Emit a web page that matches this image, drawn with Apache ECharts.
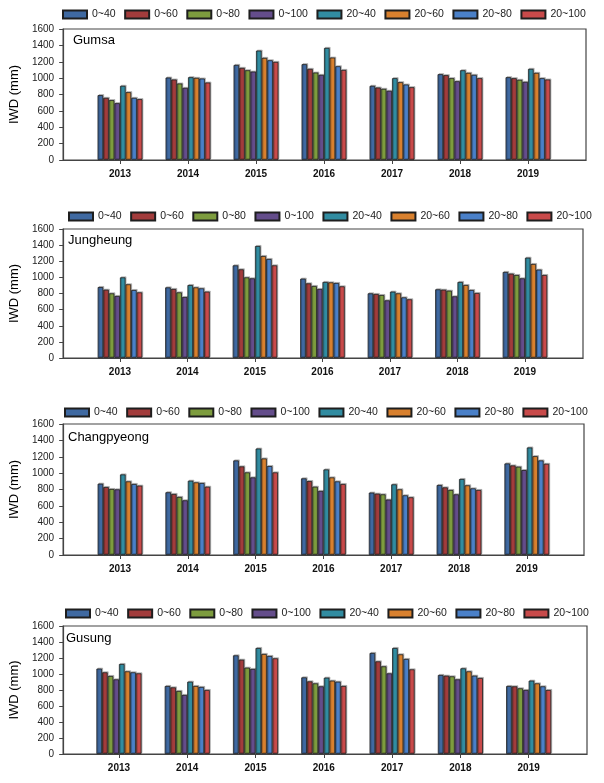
<!DOCTYPE html>
<html>
<head>
<meta charset="utf-8">
<script src="https://cdn.jsdelivr.net/npm/echarts@6/dist/echarts.min.js"></script>
<style>
html,body{margin:0;padding:0;background:#fff;}
#myChart{width:604px;height:783px;}
</style>
</head>
<body>
<div id="myChart"></div>
<script type='text/javascript'>
//数据
var years  = ['2013','2014','2015','2016','2017','2018','2019'];
var depths = ['0~40','0~60','0~80','0~100','20~40','20~60','20~80','20~100'];
var sites  = ['Gumsa','Jungheung','Changpyeong','Gusung'];
var yTicks = [0,200,400,600,800,1000,1200,1400,1600];

// rows = depths, columns = years
var gumsa = [
	[792,1007,1161,1170,906,1048,1011],
	[759,983,1125,1113,885,1036,999],
	[731,934,1096,1068,869,999,979],
	[694,881,1080,1040,845,962,954],
	[906,1011,1336,1369,999,1096,1113],
	[828,1003,1247,1251,950,1064,1064],
	[759,995,1218,1145,922,1040,999],
	[743,946,1198,1100,889,999,983]
];
var jungheung = [
	[880,876,1149,984,802,852,1067],
	[847,856,1100,926,794,847,1046],
	[802,814,1000,893,781,835,1029],
	[769,756,988,856,715,765,988],
	[1000,905,1389,943,823,943,1244],
	[914,876,1265,938,802,905,1166],
	[843,864,1228,930,752,843,1096],
	[814,823,1149,889,728,806,1029]
];
var changpyeong = [
	[871,766,1155,936,762,855,1118],
	[830,745,1082,903,749,826,1094],
	[806,709,1009,834,741,794,1078],
	[802,668,948,782,677,741,1037],
	[984,907,1300,1045,863,928,1313],
	[899,887,1179,948,802,851,1207],
	[867,879,1086,899,729,814,1155],
	[847,834,1009,867,705,794,1114]
];
var gusung = [
	[1067,850,1233,958,1263,988,850],
	[1021,833,1179,908,1158,979,846],
	[975,788,1079,883,1096,971,821],
	[933,738,1063,846,1008,933,800],
	[1125,904,1325,954,1325,1071,917],
	[1033,850,1250,917,1246,1033,883],
	[1021,838,1225,904,1188,979,846],
	[1008,800,1196,850,1058,950,800]
];
var siteData = [gumsa, jungheung, changpyeong, gusung];

var colors = ['#3f69a1','#a23c3c','#7d9c3e','#644d8b','#318ca1','#d8802e','#4a80c8','#c84a4a'];

// panel layout: frame box, inner band for years, legend and label spots
var panels = [
	{left:61, top:29,  width:525, height:131, inLeft:86,   inWidth:476,   legLeft:62, legTop:9,   tLeft:73, tTop:34},
	{left:62, top:229, width:521, height:129, inLeft:86.2, inWidth:472.5, legLeft:68, legTop:211, tLeft:68, tTop:234},
	{left:62, top:424, width:522, height:131, inLeft:86.1, inWidth:474.6, legLeft:64, legTop:407, tLeft:68, tTop:431},
	{left:60, top:626, width:527, height:128, inLeft:84.8, inWidth:478,   legLeft:65, legTop:608, tLeft:66, tTop:632}
];

var axisColor = '#444';
var option = {
	animation:false,
	textStyle:{fontFamily:'Arial, "Liberation Sans", sans-serif'},
	title:[], legend:[], grid:[], xAxis:[], yAxis:[], series:[]
};

for(var p=0;p<panels.length;p++){
	var c = panels[p];
	option.title.push({
		text:sites[p], left:c.tLeft, top:c.tTop, padding:0,
		textStyle:{fontSize:13, fontWeight:'normal', color:'#000'}
	});
	option.legend.push({
		data:depths, left:c.legLeft, top:c.legTop, padding:0, width:560,
		icon:'rect', itemWidth:24, itemHeight:8, itemGap:8.5,
		textStyle:{fontSize:10.5, color:'#222'}
	});
	//外框
	option.grid.push({left:c.left, top:c.top, width:c.width, height:c.height,
		show:true, borderColor:axisColor, borderWidth:1.2, backgroundColor:'transparent'});
	//年份区
	option.grid.push({left:c.inLeft, top:c.top, width:c.inWidth, height:c.height});

	option.xAxis.push({
		gridIndex:2*p, type:'value', min:0, max:1,
		axisLine:{show:true, lineStyle:{color:axisColor, width:1.2}},
		axisTick:{show:false}, axisLabel:{show:false}, splitLine:{show:false}
	});
	option.xAxis.push({
		gridIndex:2*p+1, type:'category', data:years,
		axisLine:{show:false},
		axisTick:{show:true, alignWithLabel:true, length:4, lineStyle:{color:axisColor}},
		axisLabel:{fontSize:10, fontWeight:'bold', color:'#111', margin:9},
		splitLine:{show:false}
	});
	option.yAxis.push({
		gridIndex:2*p, type:'value', min:yTicks[0], max:yTicks[yTicks.length-1], interval:200,
		name:'IWD (mm)', nameLocation:'middle', nameGap:42,
		nameTextStyle:{fontSize:13, color:'#000'},
		axisLine:{show:true, lineStyle:{color:axisColor, width:1.2}},
		axisTick:{show:true, length:4, lineStyle:{color:axisColor}},
		axisLabel:{fontSize:10, color:'#222', margin:9, formatter:function(v){ return String(v); }},
		splitLine:{show:false}
	});
	option.yAxis.push({
		gridIndex:2*p+1, type:'value', min:0, max:1600, show:false, splitLine:{show:false}
	});

	for(var i=0;i<depths.length;i++){
		option.series.push({
			name:depths[i], type:'bar',
			xAxisIndex:2*p+1, yAxisIndex:2*p+1,
			barGap:0, barCategoryGap:'34%',
			data:siteData[p][i],
			itemStyle:{
				color:colors[i], borderColor:'#1e1e1e', borderWidth:0.8,
				shadowColor:'rgba(0,0,0,0.25)', shadowOffsetX:1, shadowOffsetY:-1, shadowBlur:0
			}
		});
	}
}

echarts.init(document.getElementById('myChart')).setOption(option);
</script>
</body>
</html>
